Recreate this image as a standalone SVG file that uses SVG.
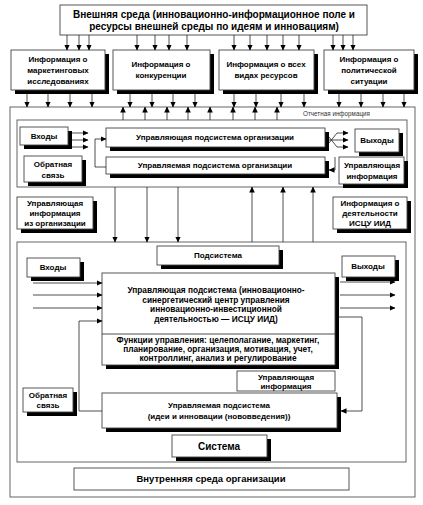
<svg xmlns="http://www.w3.org/2000/svg" width="423" height="505" viewBox="0 0 423 505">
<defs>
<marker id="ah" markerWidth="6" markerHeight="6" refX="5.5" refY="3" orient="auto" markerUnits="userSpaceOnUse">
<path d="M0,0.2 L6,3 L0,5.8 Z" fill="#000"/>
</marker>
<style>
.box{fill:#fff;stroke:#444;stroke-width:0.9}
.sh{fill:#000}
.frame{fill:none;stroke:#555;stroke-width:0.9}
.t{font-family:"Liberation Sans",Arial,sans-serif;font-weight:bold;font-size:8px;fill:#000;text-anchor:middle}
.t9{font-size:10px}
.tm{font-size:8.3px}
.tb{font-size:9.5px}
.ts{font-size:10px}
.small{font-family:"Liberation Sans",Arial,sans-serif;font-size:6.3px;fill:#333}
.c{fill:none;stroke:#222;stroke-width:0.8;marker-end:url(#ah)}
.l{fill:none;stroke:#222;stroke-width:0.8}
</style>
</defs>
<rect width="423" height="505" fill="#fff"/>

<g id="outer">
<rect class="frame" x="10" y="107" width="405" height="390"/>
<text class="small" x="303" y="116">Отчетная информация</text>
</g>
<g id="org">
<rect class="frame" x="17" y="120" width="390" height="67"/>
</g>
<g id="system">
<rect class="frame" x="17" y="242" width="389" height="220"/>
</g>

<g id="external">
<rect class="box" x="60" y="5" width="307" height="30"/>
<text class="t t9" x="214" y="18">Внешняя среда (инновационно-информационное поле и</text>
<text class="t t9" x="214" y="30">ресурсы внешней среды по идеям и инновациям)</text>
</g>

<g id="info-marketing">
<rect class="sh" x="15" y="54" width="94" height="40"/>
<rect class="box" x="11" y="50" width="94" height="40"/>
<text class="t" x="58" y="62">Информация о</text>
<text class="t" x="58" y="73">маркетинговых</text>
<text class="t" x="58" y="84">исследованиях</text>
</g>
<g id="info-competition">
<rect class="sh" x="117" y="54" width="97" height="40"/>
<rect class="box" x="113" y="50" width="97" height="40"/>
<text class="t" x="161" y="67">Информация о</text>
<text class="t" x="161" y="78">конкуренции</text>
</g>
<g id="info-resources">
<rect class="sh" x="223" y="54" width="95" height="40"/>
<rect class="box" x="219" y="50" width="95" height="40"/>
<text class="t" x="266" y="67">Информация о всех</text>
<text class="t" x="266" y="78">видах ресурсов</text>
</g>
<g id="info-politics">
<rect class="sh" x="328" y="54" width="90" height="40"/>
<rect class="box" x="324" y="50" width="90" height="40"/>
<text class="t" x="369" y="62">Информация о</text>
<text class="t" x="369" y="73">политической</text>
<text class="t" x="369" y="84">ситуации</text>
</g>

<g id="inputs1">
<rect class="sh" x="24" y="131" width="48" height="18"/>
<rect class="box" x="20" y="127" width="48" height="18"/>
<text class="t" x="44" y="139">Входы</text>
</g>
<g id="feedback1">
<rect class="sh" x="28" y="160" width="58" height="26"/>
<rect class="box" x="24" y="156" width="58" height="26"/>
<text class="t" x="53" y="167">Обратная</text>
<text class="t" x="53" y="178">связь</text>
</g>
<g id="managing1">
<rect class="sh" x="110" y="132" width="219" height="19"/>
<rect class="box" x="106" y="128" width="219" height="19"/>
<text class="t" x="215" y="140">Управляющая подсистема организации</text>
</g>
<g id="managed1">
<rect class="sh" x="110" y="161" width="219" height="17"/>
<rect class="box" x="106" y="157" width="219" height="17"/>
<text class="t" x="215" y="168">Управляемая подсистема организации</text>
</g>
<g id="outputs1">
<rect class="sh" x="359" y="133" width="44" height="23"/>
<rect class="box" x="355" y="129" width="44" height="23"/>
<text class="t" x="377" y="143">Выходы</text>
</g>
<g id="control-info1">
<rect class="sh" x="343" y="161" width="65" height="27"/>
<rect class="box" x="339" y="157" width="65" height="27"/>
<text class="t" x="372" y="168">Управляющая</text>
<text class="t" x="372" y="179">информация</text>
</g>

<g id="control-info-org">
<rect class="sh" x="21" y="201" width="76" height="32"/>
<rect class="box" x="17" y="197" width="76" height="32"/>
<text class="t" x="55" y="206">Управляющая</text>
<text class="t" x="55" y="216">информация</text>
<text class="t" x="55" y="226">из организации</text>
</g>
<g id="activity-info">
<rect class="sh" x="337" y="201" width="74" height="32"/>
<rect class="box" x="333" y="197" width="74" height="32"/>
<text class="t" x="370" y="206">Информация о</text>
<text class="t" x="370" y="216">деятельности</text>
<text class="t" x="370" y="226">ИСЦУ ИИД</text>
</g>

<g id="subsystem">
<rect class="sh" x="161" y="250" width="122" height="19"/>
<rect class="box" x="157" y="246" width="122" height="19"/>
<text class="t" x="218" y="258">Подсистема</text>
</g>
<g id="inputs2">
<rect class="sh" x="31" y="262" width="53" height="19"/>
<rect class="box" x="27" y="258" width="53" height="19"/>
<text class="t" x="53" y="270">Входы</text>
</g>
<g id="outputs2">
<rect class="sh" x="346" y="260" width="53" height="21"/>
<rect class="box" x="342" y="256" width="53" height="21"/>
<text class="t" x="368" y="269">Выходы</text>
</g>
<g id="isczu">
<rect class="sh" x="106" y="277" width="233" height="92"/>
<rect class="box" x="102" y="273" width="233" height="92"/>
<line class="l" x1="102" y1="334" x2="335" y2="334"/>
<text class="t tm" x="216" y="293">Управляющая подсистема (инновационно-</text>
<text class="t tm" x="216" y="302.5">синергетический центр управления</text>
<text class="t tm" x="216" y="312">инновационно-инвестиционной</text>
<text class="t tm" x="216" y="321.5">деятельностью — ИСЦУ ИИД)</text>
<text class="t tm" x="218" y="343">Функции управления: целеполагание, маркетинг,</text>
<text class="t tm" x="218" y="352">планирование, организация, мотивация, учет,</text>
<text class="t tm" x="218" y="361">контроллинг, анализ и регулирование</text>
</g>
<g id="control-info2">
<rect class="box" x="237" y="371" width="98" height="20"/>
<text class="t" x="286" y="380">Управляющая</text>
<text class="t" x="286" y="389">информация</text>
</g>
<g id="feedback2">
<rect class="sh" x="27" y="392" width="50" height="24"/>
<rect class="box" x="23" y="388" width="50" height="24"/>
<text class="t" x="48" y="398">Обратная</text>
<text class="t" x="48" y="408">связь</text>
</g>
<g id="managed2">
<rect class="sh" x="106" y="397" width="235" height="35"/>
<rect class="box" x="102" y="393" width="235" height="35"/>
<text class="t" x="219" y="408">Управляемая подсистема</text>
<text class="t" x="219" y="419">(идеи и инновации (нововведения))</text>
</g>
<g id="system-label">
<rect class="sh" x="176" y="439" width="95" height="22"/>
<rect class="box" x="172" y="435" width="95" height="22"/>
<text class="t ts" x="219" y="450">Система</text>
</g>
<g id="internal-env">
<rect class="box" x="74" y="468" width="275" height="22"/>
<text class="t tb" x="211" y="482">Внутренняя среда организации</text>
</g>

<g id="connectors">
<path class="c" d="M67,35V50"/><path class="c" d="M79,35V50"/><path class="c" d="M89,35V50"/>
<path class="c" d="M137,35V50"/><path class="c" d="M155,35V50"/><path class="c" d="M169,35V50"/><path class="c" d="M187,35V50"/>
<path class="c" d="M234,35V50"/><path class="c" d="M250,35V50"/><path class="c" d="M267,35V50"/><path class="c" d="M283,35V50"/><path class="c" d="M299,35V50"/>
<path class="c" d="M333,35V50"/><path class="c" d="M343,35V50"/><path class="c" d="M353,35V50"/>

<path class="c" d="M27,94V107"/><path class="c" d="M48,94V107"/><path class="c" d="M70,94V107"/><path class="c" d="M92,94V107"/>
<path class="c" d="M130,94V107"/><path class="c" d="M152,94V107"/><path class="c" d="M173,94V107"/><path class="c" d="M195,94V107"/>
<path class="c" d="M234,94V107"/><path class="c" d="M256,94V107"/><path class="c" d="M281,94V107"/><path class="c" d="M304,94V107"/>
<path class="c" d="M339,94V107"/><path class="c" d="M361,94V107"/><path class="c" d="M383,94V107"/><path class="c" d="M404,94V107"/>

<path class="c" d="M123,120V107"/><path class="c" d="M145,120V107"/><path class="c" d="M167,120V107"/><path class="c" d="M188,120V107"/>
<path class="c" d="M210,120V107"/><path class="c" d="M233,120V107"/><path class="c" d="M255,120V107"/><path class="c" d="M277,120V107"/>

<path class="c" d="M72,133H88"/><path class="c" d="M72,140H88"/><path class="c" d="M72,147H88"/>
<path class="c" d="M106,167H95V139H106"/>

<path class="c" d="M329,143L337,133H348"/>
<path class="c" d="M329,140H348"/>
<path class="c" d="M329,137L337,147H348"/>
<path class="c" d="M335,157V170H329"/>

<path class="c" d="M115,187V242"/><path class="c" d="M147,187V242"/><path class="c" d="M178,187V242"/>
<path class="c" d="M252,242V187"/><path class="c" d="M283,242V187"/><path class="c" d="M313,242V187"/>

<path class="c" d="M33,283H102"/><path class="c" d="M33,295H102"/><path class="c" d="M33,308H102"/>
<path class="c" d="M102,411H79V321H102"/>

<path class="c" d="M340,282H395"/><path class="c" d="M340,295H395"/><path class="c" d="M340,308H395"/>
<path class="c" d="M339,317H362V411H341"/>
</g>
</svg>
